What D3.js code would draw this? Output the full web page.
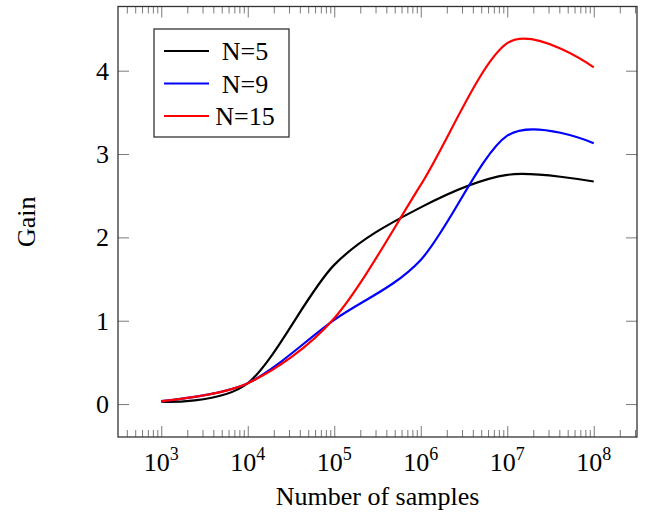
<!DOCTYPE html>
<html>
<head>
<meta charset="utf-8">
<script src="https://cdn.jsdelivr.net/npm/d3@7"></script>
<style>
  html, body { margin: 0; padding: 0; background: #fff; }
  svg { display: block; font-family: "Liberation Serif", "Times New Roman", serif; }
</style>
</head>
<body>
<svg id="chart" width="648" height="513"></svg>
<script>
// ---- data ----
const samples = [1e3, 1e4, 1e5, 1e6, 1e7, 1e8];
const gainN5  = [0.028, 0.25, 1.67, 2.36, 2.75, 2.67];
const gainN9  = [0.035, 0.25, 1.01, 1.73, 3.22, 3.13];
const gainN15 = [0.035, 0.25, 1.03, 2.63, 4.33, 4.04];
const seriesNames = ["N=5", "N=9", "N=15"];
const seriesColors = ["#000000", "#0000ff", "#ff0000"];
const xTickExps = [3, 4, 5, 6, 7, 8];
const yTicks = [0, 1, 2, 3, 4];
const xLabel = "Number of samples";
const yLabel = "Gain";

const series = [gainN5, gainN9, gainN15].map((vals, i) => ({
  name: seriesNames[i], color: seriesColors[i],
  points: samples.map((s, j) => [s, vals[j]])
}));

// ---- layout ----
const L = 118, R = 637, T = 6.5, B = 437;
const FS = 26;
const svg = d3.select("#chart");

const x = d3.scaleLog().domain([Math.pow(10, 2.5), Math.pow(10, 8.5)]).range([L, R]);
const y = d3.scaleLinear().domain([-0.395, 4.77]).range([B, T]);

// minor ticks
const minor = [];
for (let e = 2; e <= 8; e++) for (let m = 2; m <= 9; m++) {
  const v = m * Math.pow(10, e);
  if (v >= x.domain()[0] && v <= x.domain()[1]) minor.push(v);
}
const majors = xTickExps.map(e => Math.pow(10, e));

function styleTicks(g) {
  g.select(".domain").remove();
  g.selectAll("text").remove();
  g.selectAll("line").attr("stroke", "#7a7a7a").attr("stroke-width", 1);
}

svg.append("g").attr("transform", `translate(0,${B})`)
  .call(d3.axisBottom(x).tickValues(minor).tickSizeInner(-7).tickSizeOuter(0).tickFormat(""))
  .call(styleTicks);
svg.append("g").attr("transform", `translate(0,${B})`)
  .call(d3.axisBottom(x).tickValues(majors).tickSizeInner(-11).tickSizeOuter(0).tickFormat(""))
  .call(styleTicks);
svg.append("g").attr("transform", `translate(0,${T})`)
  .call(d3.axisTop(x).tickValues(minor).tickSizeInner(-7).tickSizeOuter(0).tickFormat(""))
  .call(styleTicks);
svg.append("g").attr("transform", `translate(0,${T})`)
  .call(d3.axisTop(x).tickValues(majors).tickSizeInner(-11).tickSizeOuter(0).tickFormat(""))
  .call(styleTicks);
svg.append("g").attr("transform", `translate(${L},0)`)
  .call(d3.axisLeft(y).tickValues(yTicks).tickSizeInner(-11).tickSizeOuter(0).tickFormat(""))
  .call(styleTicks);
svg.append("g").attr("transform", `translate(${R},0)`)
  .call(d3.axisRight(y).tickValues(yTicks).tickSizeInner(-11).tickSizeOuter(0).tickFormat(""))
  .call(styleTicks);

// curves
const line = d3.line()
  .x(d => x(d[0])).y(d => y(d[1]))
  .curve(d3.curveCardinal.tension(0.084));

svg.append("g").selectAll("path").data(series).join("path")
  .attr("d", d => line(d.points))
  .attr("fill", "none")
  .attr("stroke", d => d.color)
  .attr("stroke-width", 2.2)
  .attr("stroke-linejoin", "round");

// frame
svg.append("rect").attr("x", L).attr("y", T).attr("width", R - L).attr("height", B - T)
  .attr("fill", "none").attr("stroke", "#333").attr("stroke-width", 1.3);

// x tick labels
const xl = svg.append("g").selectAll("text").data(xTickExps).join("text")
  .attr("x", d => x(Math.pow(10, d)))
  .attr("y", 471)
  .attr("text-anchor", "middle")
  .attr("font-size", FS)
  .attr("fill", "#000");
xl.append("tspan").text("10");
xl.append("tspan").attr("dy", -11).attr("font-size", 18).text(d => d);

// y tick labels
svg.append("g").selectAll("text").data(yTicks).join("text")
  .attr("x", 109)
  .attr("y", d => y(d) + 9)
  .attr("text-anchor", "end")
  .attr("font-size", FS)
  .attr("fill", "#000")
  .text(d => d);

// axis labels
svg.append("text").attr("x", (L + R) / 2).attr("y", 505)
  .attr("text-anchor", "middle").attr("font-size", FS).text(xLabel);
svg.append("text")
  .attr("transform", `translate(35,${(T + B) / 2}) rotate(-90)`)
  .attr("text-anchor", "middle").attr("font-size", FS).text(yLabel);

// legend
const lg = svg.append("g");
lg.append("rect").attr("x", 154).attr("y", 29).attr("width", 135).attr("height", 108)
  .attr("fill", "#fff").attr("stroke", "#333").attr("stroke-width", 1.3);
const items = lg.selectAll("g.item").data(series).join("g").attr("class", "item")
  .attr("transform", (d, i) => `translate(0,${51 + i * 32.5})`);
items.append("line").attr("x1", 164).attr("x2", 209).attr("y1", 0).attr("y2", 0)
  .attr("stroke", d => d.color).attr("stroke-width", 2.2);
items.append("text").attr("x", 245).attr("y", 9).attr("text-anchor", "middle")
  .attr("font-size", FS).text(d => d.name);
</script>
</body>
</html>
